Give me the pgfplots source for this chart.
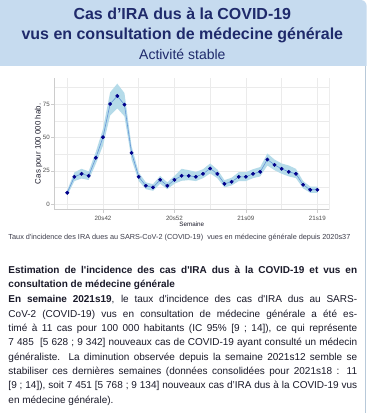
\documentclass[border=0pt]{standalone}
\usepackage{fontspec}
\setmainfont{Liberation Sans}[Ligatures=TeXOff]
\usepackage{pgfplots}
\pgfplotsset{compat=1.18}
\usepackage{pgfplotstable}
\definecolor{hdr}{HTML}{C6DBEF}
\definecolor{navy}{HTML}{1F2A6B}
\definecolor{band}{HTML}{B5DBE9}
\definecolor{lineblue}{HTML}{6495D8}
\definecolor{mk}{HTML}{00008B}
\definecolor{grd}{HTML}{EBEBEB}
\definecolor{axl}{HTML}{CCCCCC}
\definecolor{tck}{HTML}{4D4D4D}
\definecolor{txt}{HTML}{1A1A2A}

% weekly incidence (index 0 = 2020s37 ... 35 = 2021s19)
\pgfplotstableread{
i v
0 8.5
1 20.5
2 22.75
3 21.25
4 34.75
5 50.25
6 75.25
7 81.25
8 74.75
9 38.5
10 20.5
11 13.75
12 12.5
13 18.25
14 13.75
15 18.25
16 21.25
17 21.25
18 20.5
19 22.75
20 26.75
21 22.75
22 15.25
23 16.75
24 20.5
25 20.5
26 22.75
27 24.25
28 33.5
29 29.5
30 26.5
31 24.25
32 22.75
33 14.5
34 10.75
35 10.75
}\data

% 95% confidence band: upper bound forward, lower bound backward
\pgfplotstableread{
x y
0 10.5
1 23.8
2 26.5
3 24.6
4 39.3
5 56.5
6 84.0
7 90.5
8 83.5
9 43.5
10 23.8
11 16.3
12 15.0
13 21.2
14 16.3
15 21.2
16 26.5
17 25.5
18 24.2
19 26.2
20 30.5
21 26.0
22 18.0
23 19.8
24 24.0
25 24.0
26 26.2
27 27.8
28 38.0
29 33.5
30 30.5
31 29.0
32 26.5
33 17.3
34 13.2
35 13.2
35 8.5
34 8.5
33 11.8
32 19.5
31 20.8
30 22.8
29 25.5
28 29.0
27 20.8
26 19.5
25 17.3
24 17.3
23 14.0
22 12.5
21 19.5
20 23.0
19 19.5
18 17.3
17 18.0
16 17.5
15 15.3
14 11.2
13 15.3
12 10.0
11 11.2
10 17.3
9 33.5
8 66.0
7 72.0
6 66.5
5 44.0
4 30.3
3 18.1
2 19.2
1 17.3
0 6.5
}\band

\begin{document}
\begin{tikzpicture}[x=1pt,y=1pt]
\fill[white] (0,0) rectangle (367,413);
\fill[hdr] (0,347) -- (0,413) -- (361,413) arc[start angle=90,end angle=0,radius=6] -- (367,347) -- cycle;
\draw[hdr!80!gray, line width=0.8pt] (365.6,0) -- (365.6,347);
\node[anchor=base, inner sep=0, font=\fontsize{16}{19}\selectfont\bfseries, text=navy] at (182.5,393.7) {Cas d’IRA dus à la COVID-19};
\node[anchor=base, inner sep=0, font=\fontsize{16}{19}\selectfont\bfseries, text=navy] at (182.5,373.7) {vus en consultation de médecine générale};
\node[anchor=base, inner sep=0, font=\fontsize{14}{17}\selectfont, text=navy] at (182.5,353.7) {Activité stable};

\begin{axis}[
  at={(54.3pt,203pt)}, anchor=south west, scale only axis,
  width=275.4pt, height=131.7pt,
  xmin=-1.82, xmax=36.68, ymin=-4.3, ymax=94.6,
  axis lines*=left, axis line style={draw=axl, line width=0.6pt, -},
  xtick={5,15,25,35}, xticklabels={20s42,20s52,21s09,21s19},
  minor xtick={0,10,20,30},
  ytick={0,25,50,75}, minor ytick={12.5,37.5,62.5,87.5},
  grid=both, major grid style={grd, line width=0.6pt}, minor grid style={grd, line width=0.6pt},
  tick align=outside, major tick length=3pt, minor tick length=0pt,
  tick style={axl, line width=0.6pt},
  tick label style={font=\fontsize{6.2}{7}\selectfont, text=tck},
  yticklabel style={xshift=2pt},
  /pgf/number format/assume math mode=true,
]
\addplot[fill=band, draw=none] table[x=x,y=y]{\band} -- cycle;
\addplot[lineblue, line width=0.6pt, mark=*, mark size=1.6pt, mark options={mk, draw=mk, fill=mk}] table[x=i,y=v]{\data};
\draw[axl, line width=0.6pt] (rel axis cs:1,0) -- (rel axis cs:1,1);
\end{axis}

\node[rotate=90, anchor=base, inner sep=0, font=\fontsize{7.9}{9}\selectfont, text=txt] at (40.6,269) {Cas pour 100 000 hab.};
\node[anchor=base, inner sep=0, font=\fontsize{6.3}{7}\selectfont, text=txt] at (192,186.5) {Semaine};

\node[anchor=base west, inner sep=0, font=\fontsize{7.3}{9}\selectfont, text=txt!85] at (8.3,173) {Taux d'incidence des IRA dues au SARS-CoV-2 (COVID-19)\ \ vues en médecine générale depuis 2020s37};

\node[anchor=base west, inner sep=0, text width=349pt, align=justify, font=\fontsize{10}{14}\selectfont\bfseries, text=txt] at (8.3,139.5) {Estimation de l'incidence des cas d'IRA dus à la COVID-19 et vus en\linebreak{} consultation de médecine générale};

\node[anchor=base west, inner sep=0, text width=349pt, align=justify, font=\fontsize{10}{14.35}\selectfont, text=txt] at (8.3,110) {\textbf{En semaine 2021s19}, le taux d'incidence des cas d'IRA dus au SARS-\linebreak{} CoV-2 (COVID-19) vus en consultation de médecine générale a été es-\linebreak{} timé à 11 cas pour 100~000 habitants (IC 95\%~[9~;~14]), ce qui représente\linebreak{} 7~485~~[5~628~;~9~342] nouveaux cas de COVID-19 ayant consulté un médecin\linebreak{} généraliste. La diminution observée depuis la semaine 2021s12 semble se\linebreak{} stabiliser ces dernières semaines (données consolidées pour 2021s18~: 11\linebreak{} [9~;~14]), soit 7~451 [5~768~;~9~134] nouveaux cas d’IRA dus à la COVID-19 vus\linebreak{} en médecine générale).};
\end{tikzpicture}
\end{document}
